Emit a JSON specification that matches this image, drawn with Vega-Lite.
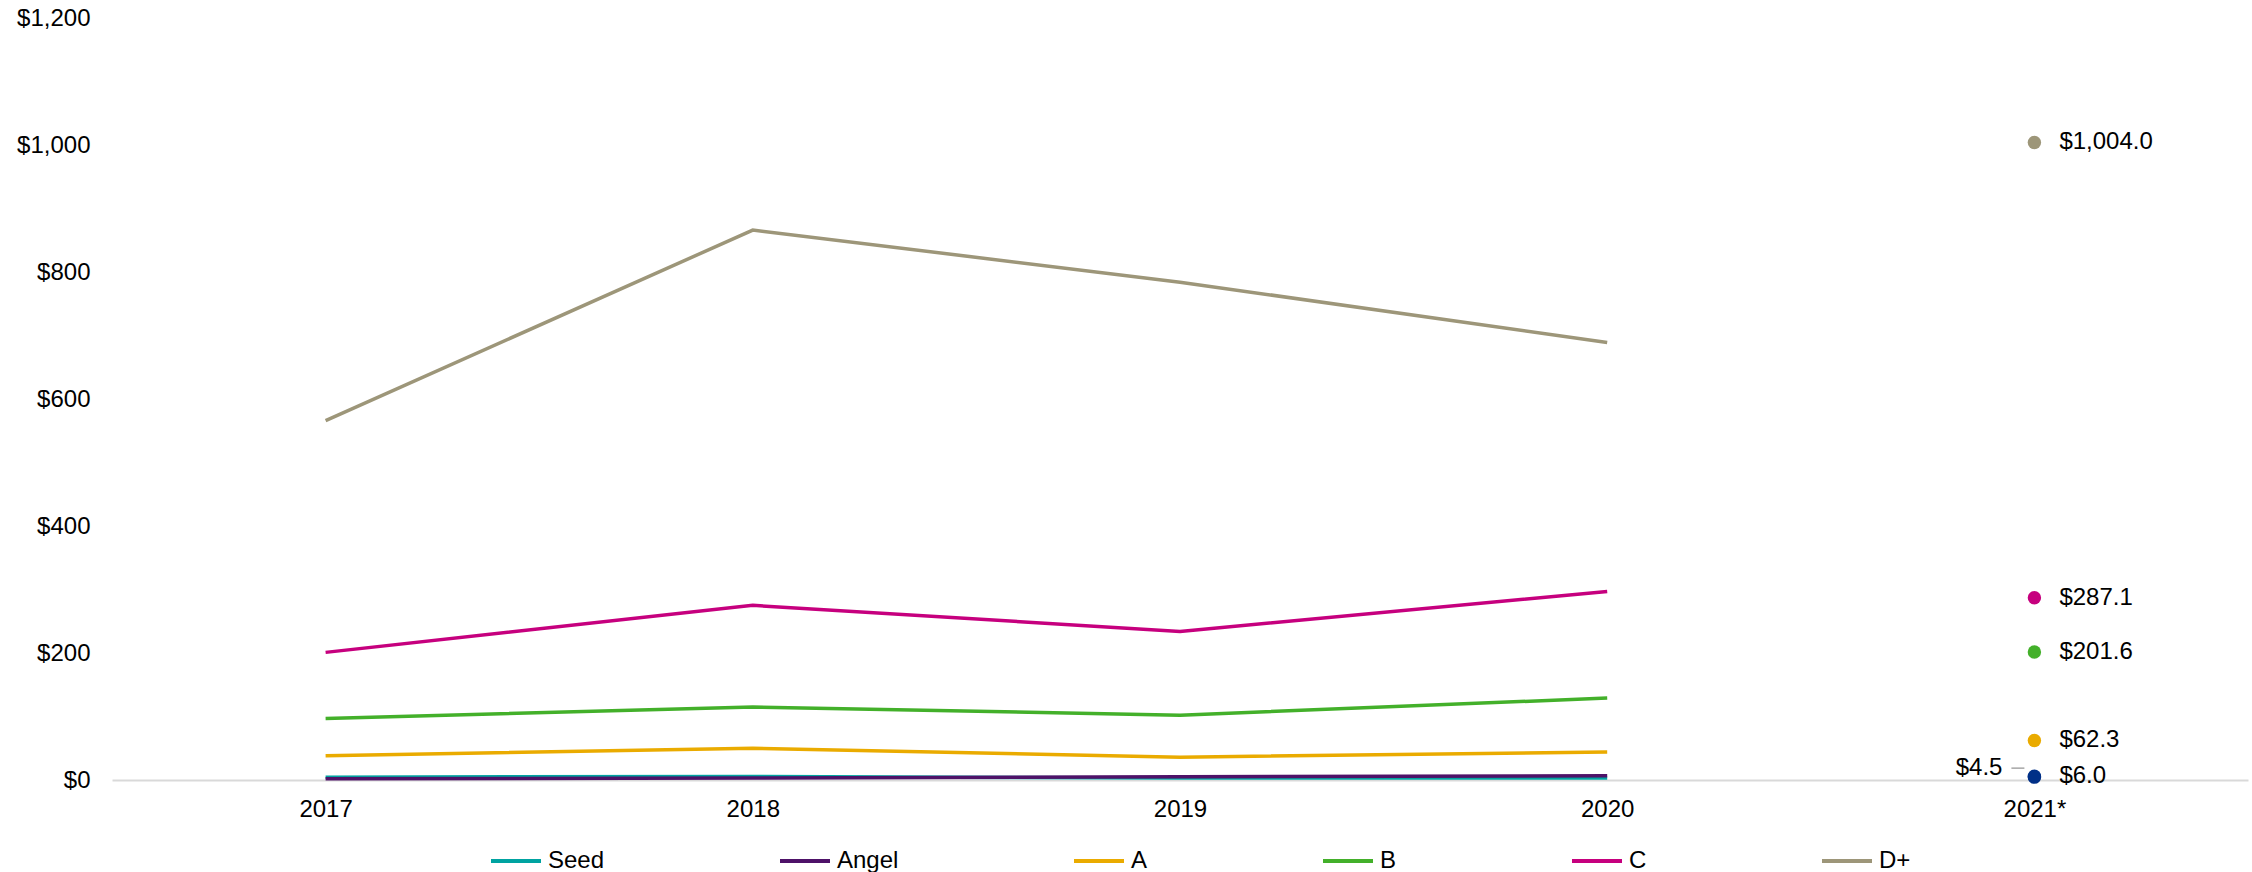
{
  "$schema": "https://vega.github.io/schema/vega-lite/v6.json",
  "width": 2136,
  "height": 762,
  "autosize": {"type": "none"},
  "padding": {"left": 112, "top": 18, "right": 4, "bottom": 92},
  "background": "white",
  "config": {
    "view": {"stroke": null},
    "font": "Liberation Sans",
    "axis": {"labelFont": "Liberation Sans", "labelColor": "#000000", "labelFontSize": 24},
    "legend": {"labelFont": "Liberation Sans", "labelColor": "#000000", "labelFontSize": 24}
  },
  "data": {
    "values": [
      {"series": "Seed", "period": "2017", "value": 4.5},
      {"series": "Seed", "period": "2018", "value": 5.5},
      {"series": "Seed", "period": "2019", "value": 3},
      {"series": "Seed", "period": "2020", "value": 3},
      {"series": "Seed", "period": "2021*", "value": 4.5},
      {"series": "Angel", "period": "2017", "value": 2},
      {"series": "Angel", "period": "2018", "value": 3},
      {"series": "Angel", "period": "2019", "value": 5},
      {"series": "Angel", "period": "2020", "value": 6.5},
      {"series": "Angel", "period": "2021*", "value": 6.0},
      {"series": "A", "period": "2017", "value": 38},
      {"series": "A", "period": "2018", "value": 50},
      {"series": "A", "period": "2019", "value": 36},
      {"series": "A", "period": "2020", "value": 44},
      {"series": "A", "period": "2021*", "value": 62.3},
      {"series": "B", "period": "2017", "value": 97},
      {"series": "B", "period": "2018", "value": 115},
      {"series": "B", "period": "2019", "value": 102},
      {"series": "B", "period": "2020", "value": 129},
      {"series": "B", "period": "2021*", "value": 201.6},
      {"series": "C", "period": "2017", "value": 201},
      {"series": "C", "period": "2018", "value": 275},
      {"series": "C", "period": "2019", "value": 234},
      {"series": "C", "period": "2020", "value": 297},
      {"series": "C", "period": "2021*", "value": 287.1},
      {"series": "D+", "period": "2017", "value": 566},
      {"series": "D+", "period": "2018", "value": 866},
      {"series": "D+", "period": "2019", "value": 784},
      {"series": "D+", "period": "2020", "value": 689},
      {"series": "D+", "period": "2021*", "value": 1004.0}
    ]
  },
  "encoding": {
    "x": {
      "field": "period",
      "type": "ordinal",
      "sort": ["2017", "2018", "2019", "2020", "2021*"],
      "scale": {"type": "point", "padding": 0.5, "domain": ["2017", "2018", "2019", "2020", "2021*"]},
      "axis": {"title": null, "labelAngle": 0, "ticks": false, "domainColor": "#d9d9d9", "domainWidth": 2, "labelPadding": 17, "grid": false}
    },
    "y": {
      "field": "value",
      "type": "quantitative",
      "scale": {"domain": [0, 1200], "nice": false},
      "axis": {"title": null, "values": [0, 200, 400, 600, 800, 1000, 1200], "format": "$,.0f", "grid": false, "domain": false, "ticks": false, "labelPadding": 22}
    }
  },
  "layer": [
    {
      "transform": [{"filter": "datum.period != '2021*'"}],
      "mark": {"type": "line", "strokeWidth": 3.5},
      "encoding": {
        "color": {
          "field": "series",
          "type": "nominal",
          "sort": ["Seed", "Angel", "A", "B", "C", "D+"],
          "scale": {"domain": ["Seed", "Angel", "A", "B", "C", "D+"], "range": ["#00A3A1", "#4E1268", "#EAAB00", "#43B02A", "#C6007E", "#9D9679"]},
          "legend": {"title": null, "orient": "none", "legendX": 377, "legendY": 816, "direction": "horizontal", "symbolType": "stroke", "symbolSize": 2500, "symbolStrokeWidth": 4, "columnPadding": 167, "labelOffset": 5, "padding": 0}
        }
      }
    },
    {
      "transform": [{"filter": "datum.period == '2021*'"}],
      "mark": {"type": "point", "filled": true, "opacity": 1, "size": 180},
      "encoding": {
        "color": {
          "field": "series",
          "type": "nominal",
          "scale": {"domain": ["Seed", "Angel", "A", "B", "C", "D+"], "range": ["#003087", "#003087", "#EAAB00", "#43B02A", "#C6007E", "#9D9679"]},
          "legend": null
        }
      }
    },
    {
      "transform": [{"filter": "datum.period == '2021*' && datum.series != 'Seed'"}],
      "mark": {"type": "text", "align": "left", "baseline": "middle", "dx": 25, "fontSize": 24, "color": "#000000"},
      "encoding": {"text": {"field": "value", "type": "quantitative", "format": "$,.1f"}}
    },
    {
      "transform": [{"filter": "datum.period == '2021*' && datum.series == 'Seed'"}],
      "mark": {"type": "text", "align": "right", "baseline": "middle", "dx": -32, "dy": -9, "fontSize": 24, "color": "#000000"},
      "encoding": {"text": {"field": "value", "type": "quantitative", "format": "$,.1f"}}
    },
    {
      "transform": [{"filter": "datum.period == '2021*' && datum.series == 'Seed'"}],
      "mark": {"type": "rule", "color": "#a6a6a6", "strokeWidth": 1.5, "xOffset": -23, "x2Offset": -10, "yOffset": -9, "y2Offset": -9},
      "encoding": {"x2": {"field": "period"}}
    }
  ],
  "resolve": {"scale": {"color": "independent"}}
}
